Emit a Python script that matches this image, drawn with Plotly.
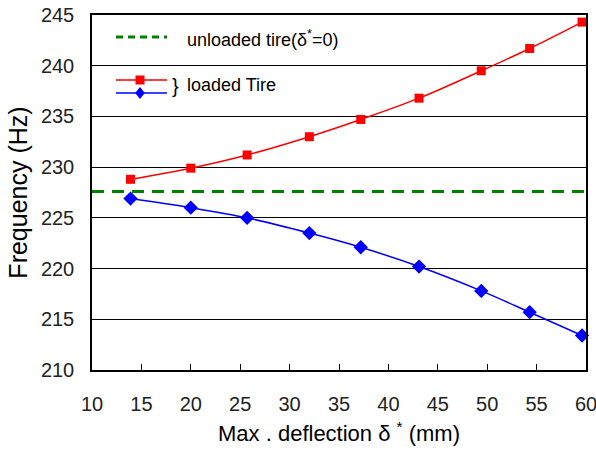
import plotly.graph_objects as go

# ---- data ----
deflection = [13.9, 20.0, 25.7, 32.0, 37.2, 43.1, 49.4, 54.3, 59.6]
freq_loaded_upper = [228.8, 229.9, 231.2, 233.0, 234.7, 236.8, 239.5, 241.7, 244.3]
freq_loaded_lower = [226.9, 226.0, 225.0, 223.5, 222.1, 220.2, 217.8, 215.7, 213.4]
freq_unloaded = 227.6
x_ticks = [10, 15, 20, 25, 30, 35, 40, 45, 50, 55, 60]
y_ticks = [210, 215, 220, 225, 230, 235, 240, 245]

W, H = 596, 451
ML, MR, MT, MB = 92, 10, 15, 81
PW, PH = W - ML - MR, H - MT - MB

def px(x):
    return (x - ML) / PW

def py(y):
    return (H - MB - y) / PH

FONT = "Liberation Sans, Arial, sans-serif"

fig = go.Figure()

fig.add_trace(go.Scatter(
    x=deflection, y=freq_loaded_upper, mode="lines+markers",
    line=dict(color="#ff0000", width=1.5, shape="spline"),
    marker=dict(symbol="square", size=9, color="#ff0000"),
    showlegend=False, cliponaxis=False))
fig.add_trace(go.Scatter(
    x=deflection, y=freq_loaded_lower, mode="lines+markers",
    line=dict(color="#0000ff", width=1.5, shape="spline"),
    marker=dict(symbol="diamond", size=11, color="#0000ff"),
    showlegend=False, cliponaxis=False))

fig.add_hline(y=freq_unloaded, line=dict(color="#008000", width=3, dash="12px,8px"), layer="above")

# ---- custom legend ----
shapes = []
shapes.append(dict(type="line", xref="paper", yref="paper", x0=px(116), x1=px(167), y0=py(37), y1=py(37),
                   line=dict(color="#008000", width=3, dash="7px,5px")))
shapes.append(dict(type="line", xref="paper", yref="paper", x0=px(116), x1=px(167), y0=py(80), y1=py(80),
                   line=dict(color="#ff0000", width=1.5)))
shapes.append(dict(type="line", xref="paper", yref="paper", x0=px(116), x1=px(167), y0=py(93), y1=py(93),
                   line=dict(color="#0000ff", width=1.5)))
shapes.append(dict(type="rect", xref="paper", yref="paper", x0=px(135.5), x1=px(144.5), y0=py(84.5), y1=py(75.5),
                   fillcolor="#ff0000", line=dict(width=0)))
d = 6
path = "M {} {} L {} {} L {} {} L {} {} Z".format(px(140), py(93 - d), px(140 + d * 0.8), py(93),
                                                 px(140), py(93 + d), px(140 - d * 0.8), py(93))
shapes.append(dict(type="path", xref="paper", yref="paper", path=path, fillcolor="#0000ff", line=dict(width=0)))
for s in shapes:
    fig.add_shape(**s)

fig.add_annotation(xref="paper", yref="paper", x=px(185), y=py(38), xanchor="left", yanchor="middle",
                   text="unloaded tire(δ<sup>*</sup>=0)", showarrow=False,
                   font=dict(family=FONT, size=18, color="black"))
fig.add_annotation(xref="paper", yref="paper", x=px(170), y=py(86), xanchor="left", yanchor="middle",
                   text="}", showarrow=False, font=dict(family=FONT, size=20, color="black"))
fig.add_annotation(xref="paper", yref="paper", x=px(185), y=py(85), xanchor="left", yanchor="middle",
                   text="loaded Tire", showarrow=False, font=dict(family=FONT, size=18, color="black"))

fig.update_xaxes(range=[10, 60], tickvals=x_ticks, ticktext=[str(v) for v in x_ticks],
                 ticks="inside", ticklen=6, tickcolor="black", tickwidth=1.2,
                 showgrid=False, zeroline=False, showline=True, linecolor="black", linewidth=1.5, mirror=True,
                 tickfont=dict(family=FONT, size=20, color="#222"), ticklabelstandoff=15,
                 ticklabeloverflow="allow", automargin=False,
                 title=dict(text="Max . deflection δ <sup>*</sup> (mm)", standoff=12,
                            font=dict(family=FONT, size=22, color="black")))
fig.update_yaxes(range=[210, 245], tickvals=y_ticks, ticktext=[str(v) for v in y_ticks],
                 ticks="", showgrid=True, gridcolor="black", gridwidth=1.3,
                 zeroline=False, showline=True, linecolor="black", linewidth=1.5, mirror=True,
                 tickfont=dict(family=FONT, size=20, color="#222"), ticklabelstandoff=12,
                 ticklabeloverflow="allow", automargin=False,
                 title=dict(text="Frequency (Hz)", standoff=6,
                            font=dict(family=FONT, size=25, color="black")))

fig.update_layout(width=W, height=H, margin=dict(l=ML, r=MR, t=MT, b=MB, pad=0),
                  plot_bgcolor="white", paper_bgcolor="white")

fig.write_html("out.html", config={"displayModeBar": False},
               post_script="document.body.style.margin='0px';")
